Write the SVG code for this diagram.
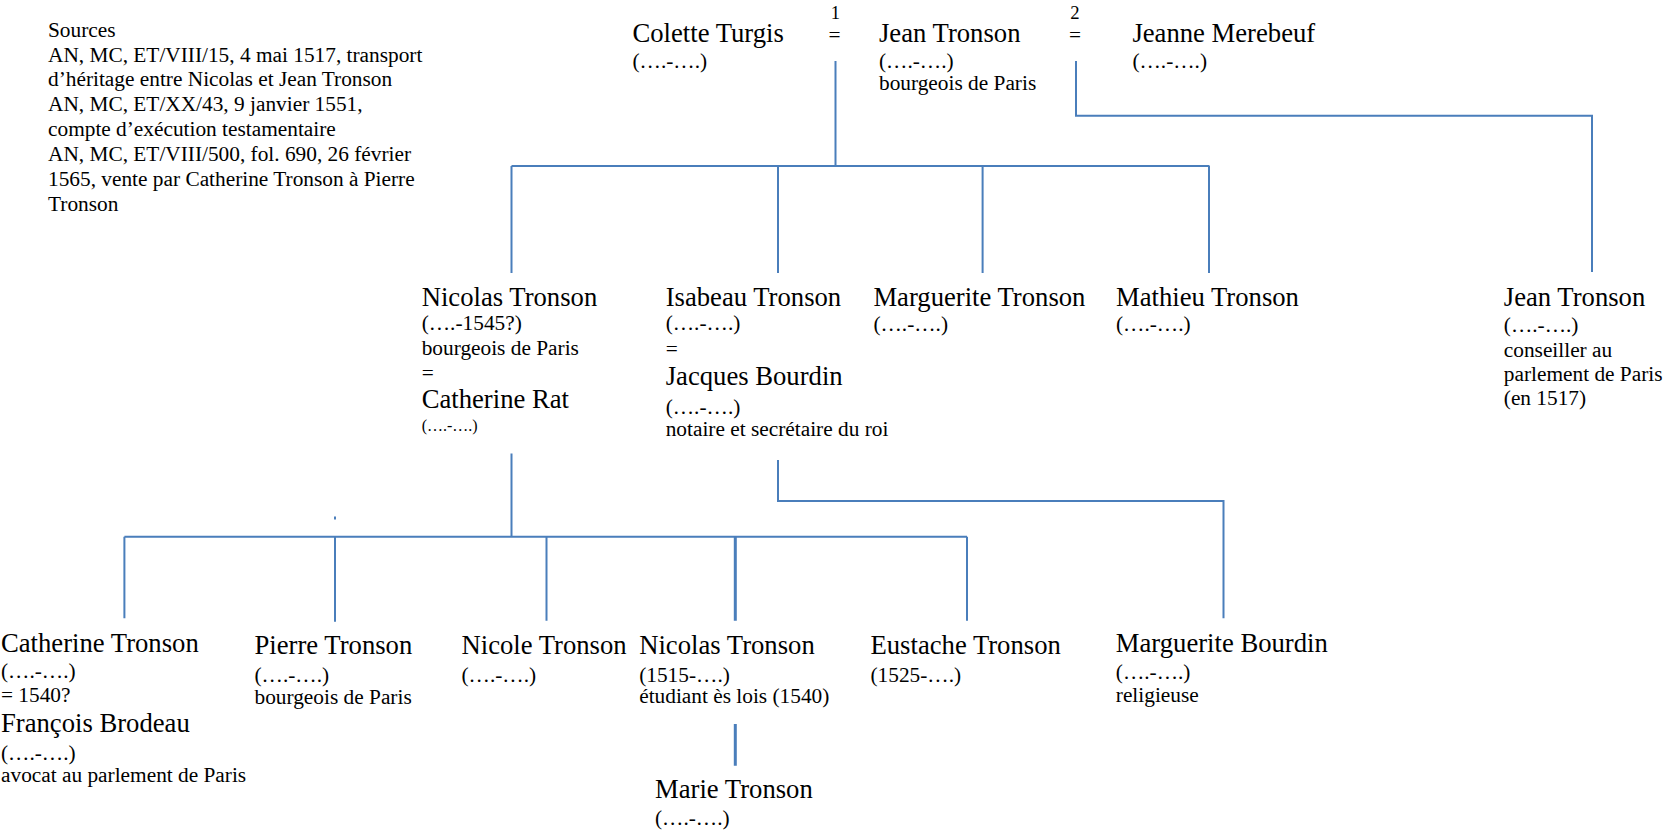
<svg xmlns="http://www.w3.org/2000/svg" width="1665" height="832" viewBox="0 0 1665 832">
<style>
text{font-family:"Liberation Serif","Times New Roman",serif;fill:#000}
.n{font-size:26.67px}
.s{font-size:21.33px}
.xs{font-size:16px}
.num{font-size:18.67px}
.c{fill:none;stroke:#4a7ebb;stroke-width:2}
.t{stroke-width:3}
</style>
<rect width="1665" height="832" fill="#fff"/>
<g id="connectors">
<path class="c" d="M835.5,61V166M511.5,166H1209.5M511.5,166V273M778,166V273M982.6,166V273M1209,166V273"/>
<path class="c" d="M1076,61V115.7H1592V272"/>
<path class="c" d="M511.5,453.5V536.7M124.4,536.7H967M124.4,536.7V618.3M335,536.7V621.7M546.5,536.7V620.7M967,536.7V620.7"/>
<path class="c t" d="M735.3,536.7V620.7M735.3,724V765.7"/>
<path class="c" d="M778,460V501H1223.5V618.3"/>
<rect x="334" y="516.5" width="2" height="3" fill="#4a7ebb"/>
</g>
<g id="sources" class="s">
<text x="48" y="36.7">Sources</text>
<text x="48" y="61.6">AN, MC, ET/VIII/15, 4 mai 1517, transport</text>
<text x="48" y="86.4">d’héritage entre Nicolas et Jean Tronson</text>
<text x="48" y="111.3">AN, MC, ET/XX/43, 9 janvier 1551,</text>
<text x="48" y="136.1">compte d’exécution testamentaire</text>
<text x="48" y="161">AN, MC, ET/VIII/500, fol. 690, 26 février</text>
<text x="48" y="185.9">1565, vente par Catherine Tronson à Pierre</text>
<text x="48" y="210.7">Tronson</text>
</g>
<g id="marriage1">
<text class="num" x="835.5" y="18.8" text-anchor="middle">1</text>
<text class="s" x="834.5" y="41.7" text-anchor="middle">=</text>
</g>
<g id="marriage2">
<text class="num" x="1075" y="18.8" text-anchor="middle">2</text>
<text class="s" x="1075" y="41.7" text-anchor="middle">=</text>
</g>
<g id="colette-turgis">
<text class="n" x="632.5" y="41.7">Colette Turgis</text>
<text class="s" x="632.5" y="68.3">(….-….)</text>
</g>
<g id="jean-tronson-pere">
<text class="n" x="879" y="41.7">Jean Tronson</text>
<text class="s" x="879" y="68.3">(….-….)</text>
<text class="s" x="879" y="90">bourgeois de Paris</text>
</g>
<g id="jeanne-merebeuf">
<text class="n" x="1132.4" y="41.7">Jeanne Merebeuf</text>
<text class="s" x="1132.4" y="68.3">(….-….)</text>
</g>
<g id="nicolas-tronson-pere">
<text class="n" x="421.7" y="306">Nicolas Tronson</text>
<text class="s" x="421.7" y="329.5">(….-1545?)</text>
<text class="s" x="421.7" y="355">bourgeois de Paris</text>
<text class="s" x="421.7" y="379.5">=</text>
<text class="n" x="421.7" y="408.3">Catherine Rat</text>
<text class="xs" x="421.7" y="430.5">(….-….)</text>
</g>
<g id="isabeau-tronson">
<text class="n" x="665.7" y="306">Isabeau Tronson</text>
<text class="s" x="665.7" y="329.5">(….-….)</text>
<text class="s" x="665.7" y="356">=</text>
<text class="n" x="665.7" y="385">Jacques Bourdin</text>
<text class="s" x="665.7" y="414">(….-….)</text>
<text class="s" x="665.7" y="435.5">notaire et secrétaire du roi</text>
</g>
<g id="marguerite-tronson">
<text class="n" x="873.4" y="305.5">Marguerite Tronson</text>
<text class="s" x="873.4" y="331">(….-….)</text>
</g>
<g id="mathieu-tronson">
<text class="n" x="1116" y="305.5">Mathieu Tronson</text>
<text class="s" x="1116" y="331">(….-….)</text>
</g>
<g id="jean-tronson-fils">
<text class="n" x="1503.8" y="305.5">Jean Tronson</text>
<text class="s" x="1503.8" y="332">(….-….)</text>
<text class="s" x="1503.8" y="357">conseiller au</text>
<text class="s" x="1503.8" y="381">parlement de Paris</text>
<text class="s" x="1503.8" y="405">(en 1517)</text>
</g>
<g id="catherine-tronson">
<text class="n" x="1" y="651.7">Catherine Tronson</text>
<text class="s" x="1" y="678">(….-….)</text>
<text class="s" x="1" y="701.7">= 1540?</text>
<text class="n" x="1" y="731.7">François Brodeau</text>
<text class="s" x="1" y="760">(….-….)</text>
<text class="s" x="1" y="781.7">avocat au parlement de Paris</text>
</g>
<g id="pierre-tronson">
<text class="n" x="254.5" y="654">Pierre Tronson</text>
<text class="s" x="254.5" y="681.7">(….-….)</text>
<text class="s" x="254.5" y="704">bourgeois de Paris</text>
</g>
<g id="nicole-tronson">
<text class="n" x="461.5" y="654">Nicole Tronson</text>
<text class="s" x="461.5" y="681.7">(….-….)</text>
</g>
<g id="nicolas-tronson-fils">
<text class="n" x="639.2" y="654">Nicolas Tronson</text>
<text class="s" x="639.2" y="681.7">(1515-….)</text>
<text class="s" x="639.2" y="703.3">étudiant ès lois (1540)</text>
</g>
<g id="eustache-tronson">
<text class="n" x="870.5" y="654">Eustache Tronson</text>
<text class="s" x="870.5" y="681.7">(1525-….)</text>
</g>
<g id="marguerite-bourdin">
<text class="n" x="1115.8" y="651.7">Marguerite Bourdin</text>
<text class="s" x="1115.8" y="679">(….-….)</text>
<text class="s" x="1115.8" y="701.7">religieuse</text>
</g>
<g id="marie-tronson">
<text class="n" x="655" y="798.3">Marie Tronson</text>
<text class="s" x="655" y="825">(….-….)</text>
</g>
</svg>
